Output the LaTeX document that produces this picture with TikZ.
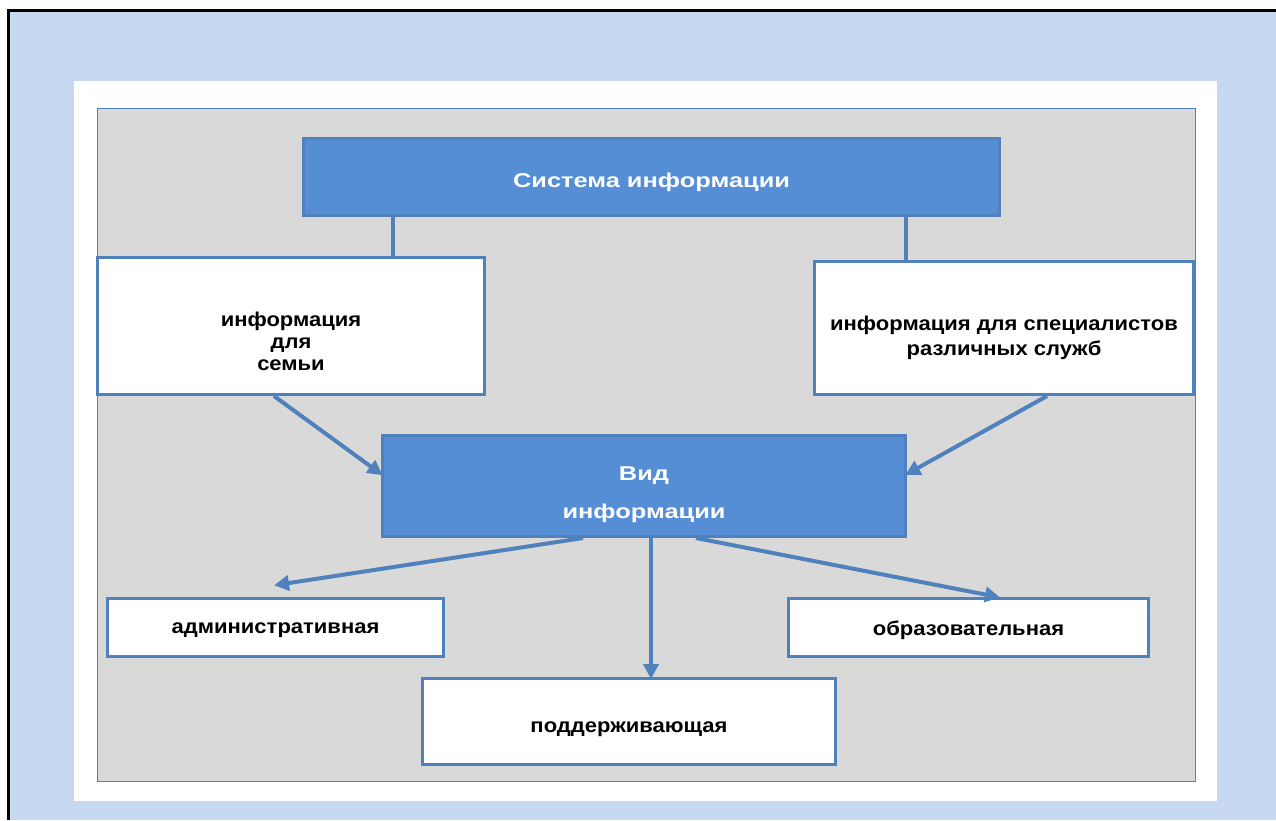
\documentclass[tikz,border=0pt]{standalone}
\usepackage{fontspec}
\setmainfont{Liberation Sans}
\newfontfamily\headfont[FakeStretch=1.27]{Liberation Sans}
\newfontfamily\bodyfont[FakeStretch=1.1]{Liberation Sans}
\usetikzlibrary{arrows.meta}
\definecolor{pageblue}{HTML}{C6D9F0}
\definecolor{panelgray}{HTML}{D9D9D9}
\definecolor{boxfill}{HTML}{558ED5}
\definecolor{boxline}{HTML}{4F81BD}
\begin{document}
\begin{tikzpicture}[x=1pt,y=-1pt,
  blockbox/.style={draw=boxline, line width=3pt, fill=boxfill, inner sep=0pt},
  plainbox/.style={draw=boxline, line width=3pt, fill=white, inner sep=0pt},
  headtext/.style={text=white, font=\headfont\bfseries\fontsize{20}{38}\selectfont,
    inner sep=0pt, align=center},
  bodytext/.style={text=black, font=\bodyfont\bfseries\fontsize{20}{22}\selectfont,
    inner sep=0pt, align=center},
  link/.style={draw=boxline, line width=4pt},
  arrowlink/.style={link, -{Triangle[length=15pt,width=15pt]}, shorten >=-2pt}]
% page background with frame
\useasboundingbox (0,0) rectangle (1276,820);
\fill[white] (0,0) rectangle (1276,820);
\fill[pageblue] (8,10) rectangle (1276,820);
\draw[black, line width=3pt] (8,820) -- (8,10) -- (1276,10);
\fill[white] (74,81) rectangle (1217,801);
\draw[fill=panelgray, draw=boxline, line width=1pt] (97,108) rectangle (1195,781);

% blocks
\node[blockbox, minimum width=696pt, minimum height=77pt] (top) at (651.5,177) {};
\node[headtext, yshift=-5pt] (toptext) at (top.center) {Система информации};
\node[plainbox, minimum width=387pt, minimum height=137pt] (fam) at (291,326) {};
\node[bodytext, yshift=-15pt] (famtext) at (fam.center) {информация\\для\\семьи};
\node[plainbox, minimum width=379pt, minimum height=133pt] (spec) at (1004,328) {};
\node[bodytext, yshift=-10pt, font=\bodyfont\bfseries\fontsize{20}{25}\selectfont] (spectext) at (spec.center) {информация для специалистов\\различных служб};
\node[blockbox, minimum width=523pt, minimum height=101pt] (vid) at (644,486) {};
\node[headtext, yshift=-9pt] (vidtext) at (vid.center) {Вид\\информации};
\node[plainbox, minimum width=336pt, minimum height=58pt] (adm) at (275.5,627.5) {};
\node[bodytext, yshift=-3pt] (admtext) at (adm.center) {административная};
\node[plainbox, minimum width=360pt, minimum height=58pt] (obr) at (968.5,627.5) {};
\node[bodytext, yshift=-3pt] (obrtext) at (obr.center) {образовательная};
\node[plainbox, minimum width=413pt, minimum height=86pt] (pod) at (629,721.5) {};
\node[bodytext, yshift=-8pt] (podtext) at (pod.center) {поддерживающая};

% connectors
\draw[link] (top.south -| 393,0) -- (fam.north -| 393,0);
\draw[link] (top.south -| 906,0) -- (spec.north -| 906,0);
\draw[arrowlink] (fam.south -| 274,0) -- (vid.west |- 0,474);
\draw[arrowlink] (spec.south -| 1047,0) -- (vid.east |- 0,474);
\coordinate (admtip) at (276,585);
\draw[arrowlink] (vid.south -| 583,0) -- (admtip);
\draw[arrowlink] (vid.south -| 651,0) -- (pod.north -| 651,0);
\draw[arrowlink] (vid.south -| 696,0) -- (obr.north -| 998,0);
\end{tikzpicture}
\end{document}
